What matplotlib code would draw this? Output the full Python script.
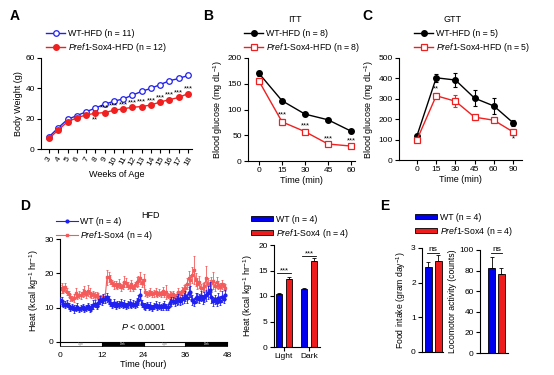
import numpy as np
import matplotlib
matplotlib.use('Agg')
import matplotlib.pyplot as plt
from matplotlib.patches import Rectangle

plt.rcParams['font.family'] = ['Liberation Sans', 'DejaVu Sans']
plt.rcParams['mathtext.fontset'] = 'custom'
plt.rcParams['mathtext.rm'] = 'Liberation Sans'
plt.rcParams['mathtext.it'] = 'Liberation Sans:italic'
plt.rcParams['mathtext.bf'] = 'Liberation Sans:bold'
plt.rcParams['axes.linewidth'] = 0.8

# ---- panel A: body weight
weeks = [3, 4, 5, 6, 7, 8, 9, 10, 11, 12, 13, 14, 15, 16, 17, 18]
bw_wt = [8, 14, 19.5, 22, 24.5, 27, 29.5, 31.5, 33, 35.5, 38, 40, 42.5, 45, 46.5, 48.5]
bw_ko = [7, 12.5, 18, 20.5, 22.5, 23.5, 24, 25.5, 26.5, 27.5, 28, 29, 31, 32.5, 34, 36.5]
bw_stars = ['', '', '', '', '', '**', '***', '***', '***', '***', '***', '***', '***', '***', '***', '***']

# ---- panel B: ITT
itt_time = [0, 15, 30, 45, 60]
itt_wt = [170, 117, 91, 80, 58]
itt_wt_err = [5, 4, 3, 3, 3]
itt_ko = [155, 76, 57, 33, 29]
itt_ko_err = [6, 6, 4, 3, 3]
itt_stars = ['', '***', '***', '***', '***']

# ---- panel C: GTT
gtt_time = ['0', '15', '30', '45', '60', '90']
gtt_wt = [120, 403, 392, 303, 265, 183]
gtt_wt_err = [8, 20, 35, 40, 40, 15]
gtt_ko = [100, 315, 288, 210, 195, 138]
gtt_ko_err = [5, 12, 30, 12, 8, 15]

# ---- panel D: heat over 48 h (every 30 min)
hours = np.arange(0, 48, 0.5)
heat_wt = [12.2, 11.8, 11.0, 10.8, 11.2, 10.4, 9.8, 10.2, 9.6, 9.9, 10.3, 9.5,
           9.8, 10.2, 9.6, 9.9, 10.4, 9.7, 10.0, 10.9, 11.2, 10.6, 11.5, 12.2,
           11.8, 12.6, 12.4, 13.0, 12.2, 11.4, 10.8, 11.3, 10.6, 11.0, 10.9, 11.4,
           10.8, 11.2, 10.6, 11.0, 11.3, 10.7, 11.1, 10.9, 11.5, 12.3, 13.8, 11.2,
           10.6, 10.3, 10.8, 10.2, 10.6, 10.0, 10.5, 10.9, 10.3, 10.6, 10.1, 10.4,
           10.8, 10.3, 10.2, 11.4, 11.8, 12.0, 11.6, 12.2, 12.6, 12.0, 12.4, 12.8,
           13.4, 12.7, 14.2, 14.6, 12.2, 11.6, 12.8, 13.0, 12.6, 13.4, 12.4, 13.2,
           13.6, 14.4, 15.2, 13.0, 11.8, 12.4, 11.6, 12.8, 12.0, 13.2, 12.6, 13.8]
heat_wt_err = [1.0, 1.2, 0.9, 1.0, 1.1, 0.9, 0.8, 1.0, 1.1, 0.9, 1.0, 0.8,
               0.9, 1.0, 0.8, 1.0, 1.1, 0.9, 1.0, 1.2, 1.0, 0.9, 1.1, 1.2,
               1.0, 1.3, 1.1, 1.4, 1.2, 1.0, 0.9, 1.1, 1.0, 0.9, 1.0, 1.1,
               0.9, 1.0, 0.9, 1.0, 1.1, 0.9, 1.0, 0.9, 1.2, 1.4, 1.6, 1.0,
               0.9, 1.0, 0.9, 0.8, 1.0, 0.9, 1.0, 1.1, 0.9, 1.0, 0.9, 1.0,
               1.0, 0.9, 1.0, 1.1, 1.2, 1.0, 1.1, 1.3, 1.4, 1.2, 1.3, 1.5,
               1.5, 1.3, 1.8, 1.6, 1.4, 1.2, 1.5, 1.4, 1.3, 1.6, 1.2, 1.5,
               1.6, 1.8, 2.2, 1.5, 1.3, 1.4, 1.2, 1.5, 1.3, 1.6, 1.2, 1.4]
heat_ko = [15.5, 15.8, 15.2, 16.0, 14.6, 14.0, 13.0, 12.6, 12.8, 14.2, 13.4, 13.8,
           13.6, 14.2, 14.8, 13.9, 15.0, 14.4, 13.6, 13.9, 13.5, 13.8, 13.2, 13.0,
           12.8, 13.0, 13.2, 18.8, 19.0, 18.2, 17.2, 16.5, 16.8, 16.3, 17.0, 16.0,
           16.4, 17.6, 17.2, 16.4, 16.0, 16.9, 15.8, 16.5, 17.5, 17.8, 18.6, 17.2,
           18.2, 14.5, 14.0, 14.3, 14.6, 14.0, 14.2, 14.5, 13.9, 14.4, 14.1, 14.8,
           14.0, 14.6, 13.5, 13.8, 13.6, 14.0, 13.2, 13.7, 14.5, 14.0, 14.8, 15.3,
           15.8, 17.0, 18.6, 18.0, 19.5, 21.0, 18.2, 17.0, 17.5, 15.6, 15.8, 16.2,
           18.5, 17.0, 16.6, 17.2, 17.8, 16.2, 17.4, 16.5, 16.0, 16.8, 16.2, 15.8]
heat_ko_err = [1.2, 1.5, 1.0, 1.3, 1.0, 0.9, 1.0, 0.8, 1.1, 1.4, 0.9, 1.0,
               1.0, 1.2, 1.5, 1.0, 1.6, 1.2, 0.9, 1.0, 1.1, 0.9, 1.0, 0.8,
               0.9, 1.0, 1.0, 2.2, 1.5, 1.3, 1.0, 1.2, 1.1, 0.9, 1.4, 1.0,
               1.0, 1.6, 1.3, 1.0, 1.0, 1.2, 0.9, 1.1, 1.4, 1.5, 1.8, 1.2,
               1.6, 1.0, 0.8, 0.9, 1.0, 0.8, 1.0, 1.2, 0.9, 1.0, 0.9, 1.1,
               1.0, 2.0, 0.8, 1.0, 0.9, 1.0, 0.8, 1.0, 1.2, 1.0, 1.1, 1.3,
               1.2, 1.5, 2.0, 1.6, 2.2, 4.0, 2.0, 1.5, 1.8, 1.2, 1.3, 1.4,
               3.5, 1.5, 1.4, 1.8, 2.5, 1.3, 1.6, 1.2, 1.2, 1.3, 1.1, 1.0]
phases = ['Light', 'Dark', 'Light', 'Dark']
phase_start = [0, 12, 24, 36]

# ---- panel D right: mean heat per phase
heat_groups = ['Light', 'Dark']
heat_mean_wt = [10.3, 11.4]
heat_mean_wt_err = [0.3, 0.2]
heat_mean_ko = [13.3, 16.8]
heat_mean_ko_err = [0.5, 0.6]

# ---- panel E
food_wt, food_wt_err = 2.45, 0.15
food_ko, food_ko_err = 2.62, 0.18
loco_wt, loco_wt_err = 83, 10
loco_ko, loco_ko_err = 77, 6

W, H = 554, 375
BLUE = '#2020f0'
RED = '#f02020'
LRED = '#f45a5a'

fig = plt.figure(figsize=(W / 100, H / 100), dpi=100)


def px_axes(l, t, r, b):
    ax = fig.add_axes([l / W, 1 - b / H, (r - l) / W, (b - t) / H])
    ax.spines['top'].set_visible(False)
    ax.spines['right'].set_visible(False)
    ax.tick_params(labelsize=6, length=3, width=0.8, pad=1.5)
    return ax


def ftext(x, y, s, **kw):
    fig.text(x / W, 1 - y / H, s, **kw)


def flegend(ax, x, y, **kw):
    ax.legend(loc='upper left', bbox_to_anchor=(x / W, 1 - y / H),
              bbox_transform=fig.transFigure, frameon=False, fontsize=6.3,
              borderpad=0, borderaxespad=0, labelspacing=0.35,
              handletextpad=0.3, **kw)


def err_line(ax, x, y, e, fmt, color, label, ms=4, lw=1, cap=1.5, elw=0.8, **kw):
    # error bars first, then the line + markers that go into the legend
    ax.errorbar(x, y, yerr=e, fmt='none', ecolor=color, capsize=cap,
                elinewidth=elw, capthick=elw, zorder=kw.get('zorder', 2))
    ax.plot(x, y, fmt, color=color, ms=ms, lw=lw, label=label, **kw)


ko_lab = r'$\it{Pref1}$-Sox4'

# panel letters / titles
for lt, x, y in [('A', 15, 16), ('B', 208, 16), ('C', 367, 16), ('D', 25, 206), ('E', 385, 206)]:
    ftext(x, y, lt, fontsize=10, fontweight='bold', ha='center', va='center')
ftext(295, 19, 'ITT', fontsize=6.5, ha='center', va='center')
ftext(452, 20, 'GTT', fontsize=6.5, ha='center', va='center')
ftext(150, 215, 'HFD', fontsize=6.5, ha='center', va='center')

# ---------------- A
ax = px_axes(41, 58, 192, 149)
ax.plot(weeks, bw_wt, '-o', color=BLUE, mfc='white', mec=BLUE, ms=4, lw=1,
        mew=0.9, label='WT-HFD (n = 11)')
ax.plot(weeks, bw_ko, '-o', color=RED, ms=4, lw=1, label=ko_lab + '-HFD (n = 12)')
for w, v, s in zip(weeks, bw_ko, bw_stars):
    if s == '**':
        ax.text(w, v - 2.2, s, fontsize=5.5, ha='center', va='top')
    elif s:
        ax.text(w, v + 0.6, s, fontsize=5.5, ha='center', va='bottom')
ax.set_xlim(2.14, 18.43)
ax.set_ylim(0, 60)
ax.set_xticks(weeks)
ax.set_xticklabels([str(w) for w in weeks], rotation=60, ha='center', va='top')
ax.set_yticks([0, 20, 40, 60])
ax.set_xlabel('Weeks of Age', fontsize=6.5, labelpad=2)
ax.set_ylabel('Body Weight (g)', fontsize=6.5, labelpad=2)
flegend(ax, 46, 29, handlelength=2.2)

# ---------------- B
ax = px_axes(248, 58, 355, 161)
err_line(ax, itt_time, itt_wt, itt_wt_err, '-o', 'black', 'WT-HFD (n = 8)')
err_line(ax, itt_time, itt_ko, itt_ko_err, '-s', RED, ko_lab + '-HFD (n = 8)',
         mfc='white', mew=0.9)
for t, v, e, s in zip(itt_time, itt_ko, itt_ko_err, itt_stars):
    if s:
        ax.text(t, v + e + 1, s, fontsize=5.5, ha='center', va='bottom')
ax.set_xlim(-7.2, 62.6)
ax.set_ylim(0, 200)
ax.set_xticks(itt_time)
ax.set_yticks([0, 50, 100, 150, 200])
ax.set_xlabel('Time (min)', fontsize=6.5, labelpad=1)
ax.set_ylabel(r'Blood glucose (mg dL$^{-1}$)', fontsize=6.5, labelpad=2)
flegend(ax, 244, 29, handlelength=2.2)

# ---------------- C
ax = px_axes(399, 58, 522, 160)
xc = np.arange(len(gtt_time))
err_line(ax, xc, gtt_wt, gtt_wt_err, '-o', 'black', 'WT-HFD (n = 5)')
err_line(ax, xc, gtt_ko, gtt_ko_err, '-s', RED, ko_lab + '-HFD (n = 5)',
         mfc='white', mew=0.9)
ax.text(xc[1], 330, '**', fontsize=5.5, ha='center', va='bottom')
ax.text(xc[2], 355, '*', fontsize=5.5, ha='center', va='bottom')
ax.text(xc[5], 123, '*', fontsize=5.5, ha='center', va='top')
ax.set_xlim(-0.94, 5.47)
ax.set_ylim(0, 500)
ax.set_xticks(xc)
ax.set_xticklabels(gtt_time)
ax.set_yticks([0, 100, 200, 300, 400, 500])
ax.set_xlabel('Time (min)', fontsize=6.5, labelpad=1)
ax.set_ylabel(r'Blood glucose (mg dL$^{-1}$)', fontsize=6.5, labelpad=2)
flegend(ax, 414, 29, handlelength=2.2)

# ---------------- D left
ax = px_axes(60, 239, 227, 342)
err_line(ax, hours, heat_wt, heat_wt_err, '-o', BLUE, 'WT (n = 4)',
         ms=2, lw=0.8, cap=1, elw=0.6, zorder=3)
err_line(ax, hours, heat_ko, heat_ko_err, '-s', LRED, ko_lab + ' (n = 4)',
         ms=2, lw=0.8, cap=1, elw=0.6, zorder=2)
ax.set_xlim(0, 48)
ax.set_ylim(0, 30)
ax.set_xticks([0, 12, 24, 36, 48])
ax.set_yticks([0, 10, 20, 30])
ax.tick_params(axis='x', pad=4)
for st, ph in zip(phase_start, phases):
    dark = ph == 'Dark'
    ax.add_patch(Rectangle((st, -0.035), 12, 0.032, transform=ax.get_xaxis_transform(),
                           facecolor='black' if dark else 'white', edgecolor='black',
                           lw=0.5, clip_on=False))
    ax.text(st + 6, -0.019, ph, transform=ax.get_xaxis_transform(), fontsize=2,
            color='white' if dark else 'gray', ha='center', va='center')
ax.text(24, 4.5, r'$\it{P}$ < 0.0001', fontsize=6.5, ha='center', va='center')
ax.set_xlabel('Time (hour)', fontsize=6.5, labelpad=1)
ax.set_ylabel(r'Heat (kcal kg$^{-1}$ hr$^{-1}$)', fontsize=6.5, labelpad=2)
flegend(ax, 56, 217, handlelength=2.5)

# ---------------- D right
ax = px_axes(274, 245, 320, 347)
xg = np.array([0.0, 2.5])
ax.bar(xg, heat_mean_wt, 0.6, color='#0000ee', edgecolor='black', lw=0.6,
       yerr=[[0, 0], heat_mean_wt_err], capsize=1.2,
       error_kw=dict(elinewidth=0.6, capthick=0.6), label='WT (n = 4)')
ax.bar(xg + 1, heat_mean_ko, 0.6, color='#ee1c1c', edgecolor='black', lw=0.6,
       yerr=[[0, 0], heat_mean_ko_err], capsize=1.2,
       error_kw=dict(elinewidth=0.6, capthick=0.6), label=ko_lab + ' (n = 4)')
for x0, top in zip(xg, [14.6, 17.9]):
    ax.plot([x0 - 0.2, x0 + 1.2], [top, top], color='black', lw=0.6)
    ax.text(x0 + 0.5, top - 0.3, '***', fontsize=5.5, ha='center', va='bottom')
ax.set_xlim(-0.5, 4.1)
ax.set_ylim(0, 20)
ax.set_xticks(xg + 0.5)
ax.set_xticklabels(heat_groups)
ax.set_yticks([0, 5, 10, 15, 20])
ax.set_ylabel(r'Heat (kcal kg$^{-1}$ hr$^{-1}$)', fontsize=6.5, labelpad=2)
flegend(ax, 251, 215, handlelength=2.5, handleheight=0.5)

# ---------------- E left
ax = px_axes(422, 248, 443, 352)
ax.bar([0], [food_wt], 0.7, color='#0000ee', edgecolor='black', lw=0.6,
       yerr=[[0], [food_wt_err]], capsize=1.5,
       error_kw=dict(elinewidth=0.6, capthick=0.6), label='WT (n = 4)')
ax.bar([1], [food_ko], 0.7, color='#ee1c1c', edgecolor='black', lw=0.6,
       yerr=[[0], [food_ko_err]], capsize=1.5,
       error_kw=dict(elinewidth=0.6, capthick=0.6), label=ko_lab + ' (n = 4)')
ax.plot([-0.1, 1.1], [2.86, 2.86], color='black', lw=0.6)
ax.text(0.5, 2.86, 'ns', fontsize=6, ha='center', va='bottom')
ax.set_xlim(-0.65, 1.5)
ax.set_ylim(0, 3)
ax.set_xticks([])
ax.set_yticks([0, 1, 2, 3])
ax.set_ylabel(r'Food intake (gram day$^{-1}$)', fontsize=6.2, labelpad=2)
flegend(ax, 415, 213, handlelength=2.5, handleheight=0.5)

# ---------------- E right
ax = px_axes(480, 250, 508, 353)
ax.bar([0], [loco_wt], 0.7, color='#0000ee', edgecolor='black', lw=0.6,
       yerr=[[0], [loco_wt_err]], capsize=1.5,
       error_kw=dict(elinewidth=0.6, capthick=0.6))
ax.bar([1], [loco_ko], 0.7, color='#ee1c1c', edgecolor='black', lw=0.6,
       yerr=[[0], [loco_ko_err]], capsize=1.5,
       error_kw=dict(elinewidth=0.6, capthick=0.6))
ax.plot([-0.1, 1.1], [97, 97], color='black', lw=0.6)
ax.text(0.5, 97, 'ns', fontsize=6, ha='center', va='bottom')
ax.set_xlim(-1.2, 1.7)
ax.set_ylim(0, 100)
ax.set_xticks([])
ax.set_yticks([0, 20, 40, 60, 80, 100])
ax.set_ylabel('Locomotor activity (counts)', fontsize=6.2, labelpad=2)

fig.savefig('out.png', dpi=100)
